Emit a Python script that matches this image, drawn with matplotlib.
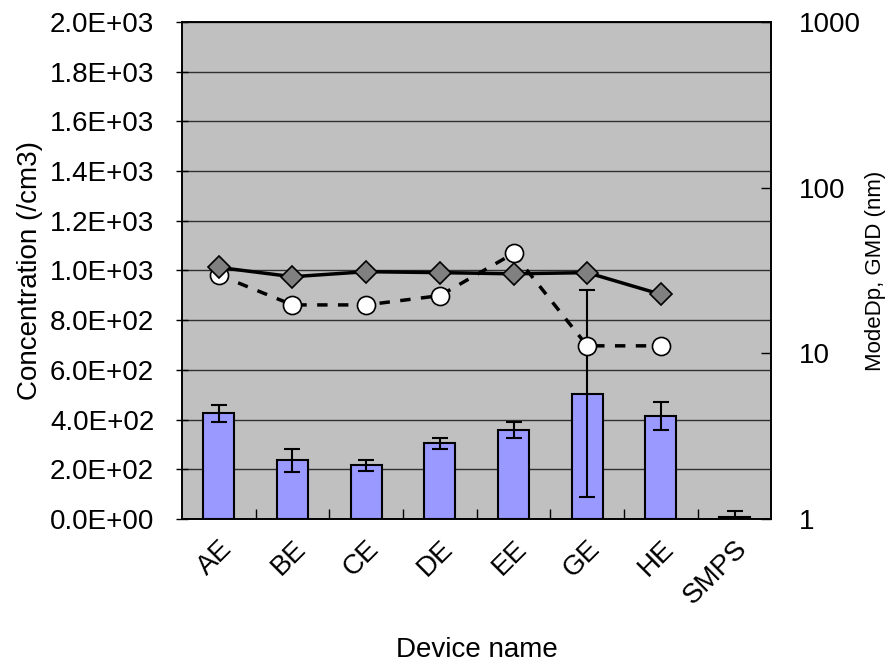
import matplotlib
matplotlib.use("Agg")
import matplotlib.pyplot as plt
import numpy as np
from matplotlib.ticker import FixedLocator, NullLocator, FuncFormatter

plt.rcParams['font.family'] = ['Liberation Sans', 'DejaVu Sans']

devices = ["AE", "BE", "CE", "DE", "EE", "GE", "HE", "SMPS"]
concentration = [425, 237, 216, 305, 358, 504, 416, 10]
conc_err = [35, 46, 21, 22, 31, 416, 56, 23]

mode_devices = ["AE", "BE", "CE", "DE", "EE", "GE", "HE"]
mode_dp = [33.0, 29.0, 31.1, 30.7, 30.2, 30.7, 22.7]
gmd = [29.7, 19.6, 19.6, 22.3, 40.1, 11.1, 11.1]

left_ticks = [0, 200, 400, 600, 800, 1000, 1200, 1400, 1600, 1800, 2000]
right_ticks = [1, 10, 100, 1000]

fig = plt.figure(figsize=(8.89, 6.65), dpi=100)
ax = fig.add_axes([0.2047, 0.2195, 0.663, 0.7475])
ax.set_facecolor("#C0C0C0")

x = np.arange(len(devices))
ax.bar(x, concentration, width=0.42, color="#9999FF", edgecolor="black", linewidth=1.5, zorder=3)
ax.errorbar(x, concentration, yerr=conc_err, fmt="none", ecolor="black", elinewidth=1.5,
            capsize=6, capthick=1.5, zorder=4)

ax.set_xlim(-0.5, len(devices) - 0.5)
ax.set_ylim(0, 2000)
ax.set_yticks(left_ticks)
ax.yaxis.set_major_formatter(FuncFormatter(lambda v, p: "%.1fE+%02d" % (v / 10 ** (3 if v >= 1000 else 2), 3 if v >= 1000 else 2) if v > 0 else "0.0E+00"))
ax.grid(axis="y", color="#303030", linewidth=1.0, zorder=1)
ax.set_axisbelow(True)

ax.xaxis.set_major_locator(FixedLocator(x))
ax.xaxis.set_minor_locator(FixedLocator(np.arange(0.5, len(devices) - 0.5, 1)))
ax.set_xticklabels(devices, rotation=45, ha="right", rotation_mode="anchor", fontsize=20)
ax.tick_params(axis="x", which="major", length=0, pad=12)
ax.tick_params(axis="x", which="minor", direction="in", length=7, width=1, color="black")
ax.tick_params(axis="y", direction="inout", length=8, width=1, labelsize=20, pad=16)

ax.set_ylabel("Concentration (/cm3)", fontsize=20, labelpad=5)
ax.set_xlabel("Device name", fontsize=20, labelpad=20)

ax2 = ax.twinx()
ax2.set_yscale("log")
ax2.set_ylim(1, 1000)
ax2.yaxis.set_major_locator(FixedLocator(right_ticks))
ax2.yaxis.set_minor_locator(NullLocator())
ax2.yaxis.set_major_formatter(FuncFormatter(lambda v, p: "%d" % v))
ax2.tick_params(axis="y", direction="in", length=7, width=1, labelsize=20, pad=20)
ax2.set_ylabel("ModeDp, GMD (nm)", fontsize=16, labelpad=3)

xm = np.arange(len(mode_devices))
ax2.plot(xm, gmd, linestyle=(0, (3, 3)), color="black", linewidth=2.5, marker="o",
         markersize=13, markerfacecolor="white", markeredgecolor="black", markeredgewidth=1.2, zorder=5)
ax2.plot(xm, mode_dp, linestyle="-", color="black", linewidth=2.5, marker="D",
         markersize=11, markerfacecolor="#808080", markeredgecolor="black", markeredgewidth=1.2, zorder=6)

for a in (ax, ax2):
    for s in a.spines.values():
        s.set_color("black")
        s.set_linewidth(1.2)

fig.savefig("out.png", dpi=100, facecolor="white")
